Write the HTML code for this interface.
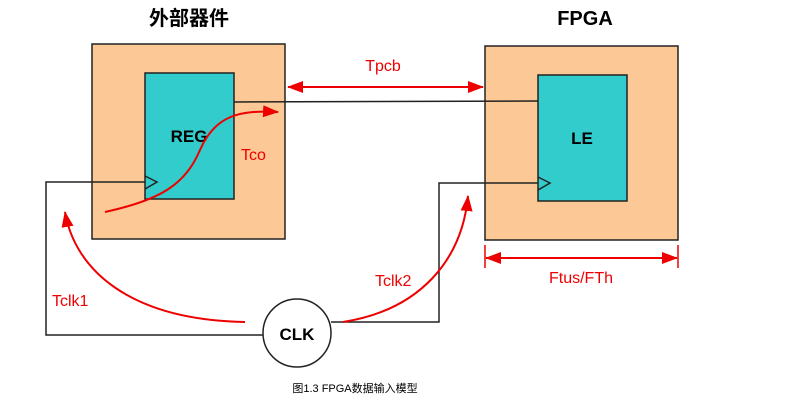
<!DOCTYPE html><html><head><style>body{margin:0;background:#fff}svg{display:block}</style></head><body>
<svg width="792" height="407" xmlns="http://www.w3.org/2000/svg" font-family="Liberation Sans, Noto Sans CJK SC, sans-serif">
<defs><marker id="a" markerWidth="10" markerHeight="10" refX="9" refY="5" orient="auto" markerUnits="userSpaceOnUse"><path d="M0,0 L10,5 L0,10 z" fill="#e00"/></marker>
<marker id="b" markerWidth="16" markerHeight="12" refX="15" refY="6" orient="auto" markerUnits="userSpaceOnUse"><path d="M0,0 L16,6 L0,12 z" fill="#e00"/></marker></defs>
<text x="189" y="25" font-size="20" font-weight="bold" text-anchor="middle">外部器件</text>
<text x="585" y="25" font-size="20" font-weight="bold" text-anchor="middle">FPGA</text>
<rect x="92" y="44" width="193" height="195" fill="#fbc896" stroke="#222" stroke-width="1.5"/>
<rect x="485" y="46" width="193" height="194" fill="#fbc896" stroke="#222" stroke-width="1.5"/>
<rect x="145" y="73" width="89" height="126" fill="#33cccc" stroke="#222" stroke-width="1.5"/>
<rect x="538" y="75" width="89" height="126" fill="#33cccc" stroke="#222" stroke-width="1.5"/>
<text x="189" y="142" font-size="17" font-weight="bold" text-anchor="middle">REG</text>
<text x="582" y="144" font-size="17" font-weight="bold" text-anchor="middle">LE</text>
<path d="M145,176 L157,182 L145,189" fill="none" stroke="#222" stroke-width="1.5"/>
<path d="M538,177 L550,183 L538,190" fill="none" stroke="#222" stroke-width="1.5"/>
<path d="M234,102 L538,101" stroke="#222" stroke-width="1.5" fill="none"/>
<path d="M145,182 H46 V335 H263" stroke="#222" stroke-width="1.5" fill="none"/>
<path d="M538,183 H439 V322 H331" stroke="#222" stroke-width="1.5" fill="none"/>
<circle cx="297" cy="333" r="34" fill="#fff" stroke="#222" stroke-width="1.5"/>
<text x="297" y="340" font-size="17" font-weight="bold" text-anchor="middle">CLK</text>
<line x1="290" y1="87" x2="483" y2="87" stroke="#e00" stroke-width="2" marker-end="url(#b)"/>
<line x1="483" y1="87" x2="288" y2="87" stroke="#e00" stroke-width="2" marker-end="url(#b)"/>
<text x="383" y="71" font-size="16" fill="#e00" text-anchor="middle">Tpcb</text>
<line x1="485" y1="245" x2="485" y2="268" stroke="#e00" stroke-width="1.5"/>
<line x1="678" y1="245" x2="678" y2="268" stroke="#e00" stroke-width="1.5"/>
<line x1="500" y1="258" x2="677" y2="258" stroke="#e00" stroke-width="2" marker-end="url(#b)"/>
<line x1="660" y1="258" x2="486" y2="258" stroke="#e00" stroke-width="2" marker-end="url(#b)"/>
<text x="581" y="283" font-size="16" fill="#e00" text-anchor="middle">Ftus/FTh</text>
<path d="M105,212 C160,200 185,185 200,150 C215,115 240,110 278,112" stroke="#e00" stroke-width="2" fill="none" marker-end="url(#b)"/>
<text x="241" y="160" font-size="16" fill="#e00">Tco</text>
<path d="M245,322 C130,320 75,270 65,212" stroke="#e00" stroke-width="2" fill="none" marker-end="url(#b)"/>
<text x="52" y="306" font-size="16" fill="#e00">Tclk1</text>
<path d="M343,322 C420,310 462,260 468,196" stroke="#e00" stroke-width="2" fill="none" marker-end="url(#b)"/>
<text x="375" y="286" font-size="16" fill="#e00">Tclk2</text>
<text x="355" y="392" font-size="11" text-anchor="middle">图1.3  FPGA数据输入模型</text>
</svg></body></html>
